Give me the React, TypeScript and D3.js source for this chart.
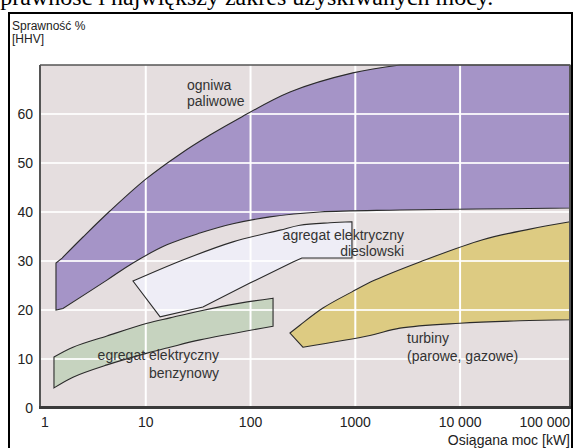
import React from "react";
import * as d3 from "d3";

type P = [number, number];

// axis ticks
const xTicks = [1, 10, 100, 1000, 10000, 100000];
const xTickLabels = ["1", "10", "100", "1000", "10 000", "100 000"];
const xGrid = [10, 100, 1000, 10000];
const yTicks = [0, 10, 20, 30, 40, 50, 60];
const yGrid = [10, 20, 30, 40, 50, 60];

// fuel cells (ogniwa paliwowe)
const fuelLeft: P[] = [[1.39, 20], [1.39, 29.6], [1.59, 30.6]];
const fuelUpper: P[] = [[1.59, 30.6], [2.52, 34.9], [4.55, 40.2], [10, 46.7], [21.2, 51.8], [41, 55.7], [79, 59.2], [238, 64.5], [948, 68.4], [2667, 70]];
const fuelRight: P[] = [[2667, 70], [112000, 70], [112000, 40.8]];
const fuelLower: P[] = [[1.62, 20.3], [4.26, 26.1], [7.55, 29.6], [15.9, 33.3], [32.9, 35.7], [67.9, 37.6], [153, 39.0], [459, 40.0], [2667, 40.4], [112000, 40.8]];

// diesel generator
const dieselTop: P[] = [[7.55, 25.9], [22.6, 30.2], [67.9, 33.9], [191, 36.3], [296, 37.3], [573, 37.8], [929, 38.0]];
const dieselRest: P[] = [[929, 38.0], [929, 30.6], [309, 30.6], [254, 29.8], [98.6, 25.5], [35.1, 20.6], [13.7, 18.6], [7.55, 25.9]];

// petrol generator
const petrolTop: P[] = [[1.33, 10.4], [2.02, 12.4], [4.26, 14.7], [10.3, 17.3], [17.0, 18.4], [32.9, 19.8], [79.2, 21.4], [164, 22.4]];
const petrolRight: P[] = [[164, 22.4], [164, 16.7]];
const petrolLower: P[] = [[1.33, 4.1], [2.02, 6.3], [4.26, 8.8], [10.3, 11.2], [17.0, 12.4], [32.9, 13.9], [164, 16.7]];
const petrolLeft: P[] = [[1.33, 4.1], [1.33, 10.4]];

// turbines
const turbTop: P[] = [[238, 15.3], [296, 16.9], [491, 20.4], [929, 23.7], [1538, 26.1], [4130, 29.8], [16140, 34.3], [46400, 36.5], [112000, 38.0]];
const turbRight: P[] = [[112000, 38.0], [112000, 18.0]];
const turbLower: P[] = [[316, 12.4], [1377, 14.8], [2667, 16.3], [9960, 17.3], [37200, 17.8], [112000, 18.0]];
const turbTip: P[] = [[316, 12.4], [238, 15.3]];

const W = 574, H = 448;
const x = d3.scaleLog().domain([1, 112000]).range([41, 570]);
const y = d3.scaleLinear().domain([0, 70]).range([408, 65]);

const curved = d3.line<P>().x(d => x(d[0])).y(d => y(d[1])).curve(d3.curveCatmullRom.alpha(0.5));
const straight = d3.line<P>().x(d => x(d[0])).y(d => y(d[1]));

function join(parts: { pts: P[]; c: boolean }[]): string {
  let s = "";
  parts.forEach((p, i) => {
    const str = (p.c ? curved : straight)(p.pts) || "";
    s += i === 0 ? str : str.replace(/^M/, "L");
  });
  return s + "Z";
}
const rev = (a: P[]) => a.slice().reverse();

const fuelPath = join([
  { pts: fuelLeft, c: false },
  { pts: fuelUpper, c: true },
  { pts: fuelRight, c: false },
  { pts: rev(fuelLower), c: true },
  { pts: [[1.62, 20.3], [1.39, 20]], c: false },
]);
const dieselPath = join([
  { pts: dieselTop, c: true },
  { pts: dieselRest, c: false },
]);
const petrolPath = join([
  { pts: petrolTop, c: true },
  { pts: petrolRight, c: false },
  { pts: rev(petrolLower), c: true },
  { pts: petrolLeft, c: false },
]);
const turbPath = join([
  { pts: turbTop, c: true },
  { pts: turbRight, c: false },
  { pts: rev(turbLower), c: true },
  { pts: turbTip, c: false },
]);

const sans = "'Liberation Sans', Arial, sans-serif";
const stroke = "#2b2b2b";

export default function App() {
  const px0 = 40, px1 = 570, py0 = 65, py1 = 408;
  return (
    <svg width={W} height={H} style={{ position: "absolute", left: 0, top: 0, background: "#fff" }}>
      <text x={-9} y={5} fontFamily="'Liberation Serif', 'Times New Roman', serif" fontSize={24} fill="#000">
        sprawność i największy zakres uzyskiwanych mocy.
      </text>
      <rect x={9} y={13} width={563} height={460} fill="none" stroke="#000" strokeWidth={2} />
      <text x={12} y={30} fontFamily={sans} fontSize={12} fill="#222">Sprawność %</text>
      <text x={12} y={43} fontFamily={sans} fontSize={12} fill="#222">[HHV]</text>

      <rect x={px0} y={py0} width={px1 - px0} height={py1 - py0} fill="#e5dedf" />
      <path d={fuelPath} fill="#a594c7" />
      <path d={dieselPath} fill="#eeedf6" />
      <path d={petrolPath} fill="#c6d3bf" />
      <path d={turbPath} fill="#ddcb82" />

      {yGrid.map(v => (
        <line key={"gy" + v} x1={px0} x2={px1} y1={y(v)} y2={y(v)} stroke="#fff" strokeOpacity={0.85} strokeWidth={2} />
      ))}
      {xGrid.map(v => (
        <line key={"gx" + v} x1={x(v)} x2={x(v)} y1={py0} y2={py1} stroke="#fff" strokeWidth={2} />
      ))}

      <path d={fuelPath} fill="none" stroke={stroke} strokeWidth={1.1} />
      <path d={dieselPath} fill="none" stroke={stroke} strokeWidth={1.1} />
      <path d={petrolPath} fill="none" stroke={stroke} strokeWidth={1.1} />
      <path d={turbPath} fill="none" stroke={stroke} strokeWidth={1.1} />

      <line x1={px0} x2={px1} y1={py0} y2={py0} stroke="#555" strokeWidth={1.5} />
      <line x1={px0} x2={px0} y1={py0} y2={py1} stroke="#555" strokeWidth={2} />
      <line x1={px1} x2={px1} y1={py0} y2={py1} stroke="#555" strokeWidth={2} />
      <line x1={px0 - 1} x2={px1 + 1} y1={py1 - 0.5} y2={py1 - 0.5} stroke="#3a3a3a" strokeWidth={3} />

      {yTicks.map(v => (
        <text key={"yt" + v} x={33} y={y(v) + 5} textAnchor="end" fontFamily={sans} fontSize={14} fill="#222">{v}</text>
      ))}
      {xTicks.map((v, i) => {
        const last = i === xTicks.length - 1;
        const xx = i === 0 ? x(v) + 4 : last ? 570 : x(v);
        return (
          <text key={"xt" + v} x={xx} y={427} textAnchor={last ? "end" : "middle"} fontFamily={sans} fontSize={14} fill="#222">
            {xTickLabels[i]}
          </text>
        );
      })}
      <text x={570} y={445} textAnchor="end" fontFamily={sans} fontSize={14} fill="#222">Osiągana moc [kW]</text>

      <g fontFamily={sans} fontSize={14} fill="#333">
        <text x={187} y={90}>ogniwa</text>
        <text x={187} y={106}>paliwowe</text>
        <text x={404} y={240} textAnchor="end">agregat elektryczny</text>
        <text x={404} y={256} textAnchor="end">dieslowski</text>
        <text x={219} y={360} textAnchor="end">egregat elektryczny</text>
        <text x={219} y={378} textAnchor="end">benzynowy</text>
        <text x={407} y={343}>turbiny</text>
        <text x={407} y={361}>(parowe, gazowe)</text>
      </g>
    </svg>
  );
}
